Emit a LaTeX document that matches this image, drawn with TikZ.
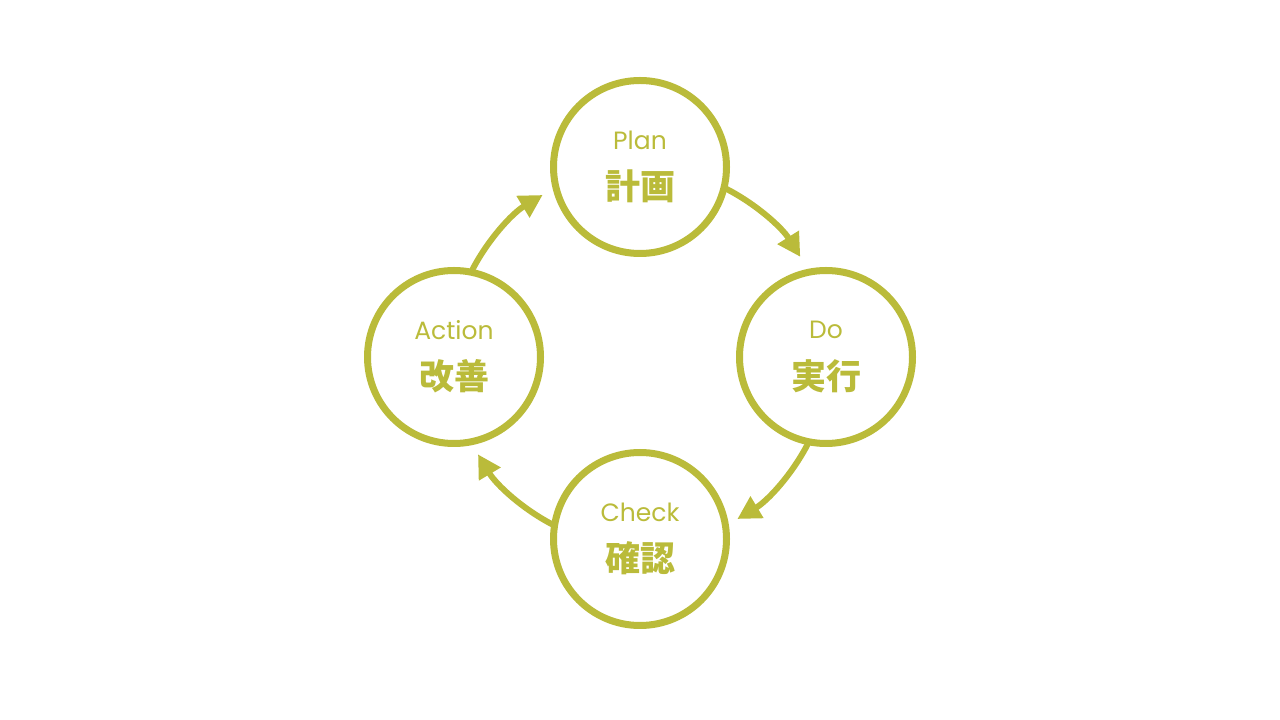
\documentclass[tikz,border=0pt]{standalone}
\usepackage{fontspec}
\setmainfont{Poppins}
\newfontfamily\cjk{Noto Sans CJK JP}
\usetikzlibrary{arrows.meta}
\definecolor{olive}{RGB}{186,187,58}
\begin{document}
\begin{tikzpicture}[x=1pt,y=1pt,
  stage/.style={circle,draw=olive,line width=7pt,minimum size=173pt,inner sep=0pt},
  en/.style={text=olive,font=\fontsize{25}{30}\selectfont},
  jp/.style={text=olive,font=\cjk\bfseries\fontsize{35}{40}\selectfont},
  cyc/.style={draw=olive,line width=6pt,-{Triangle[length=23pt,width=24pt]}}]
\useasboundingbox (0,0) rectangle (1280,720);
\coordinate (ctr) at (640,363);
\node[stage] (plan) at (640,553) {};
\node[stage] (do) at (826,363) {};
\node[stage] (check) at (640,181) {};
\node[stage] (act) at (454,363) {};
\foreach \n/\e/\j in {plan/Plan/計画,do/Do/実行,check/Check/確認,act/Action/改善}{
  \node[en] (\n-en) at ([yshift=27pt]\n.center) {\e};
  \node[jp] (\n-jp) at ([yshift=-19pt]\n.center) {\j};
}
\draw[cyc] ([shift={(63:189)}]ctr) arc[start angle=63,end angle=32,radius=189];
\draw[cyc] ([shift={(-27:189)}]ctr) arc[start angle=-27,end angle=-59,radius=189];
\draw[cyc] ([shift={(-117:189)}]ctr) arc[start angle=-117,end angle=-149,radius=189];
\draw[cyc] ([shift={(153:189)}]ctr) arc[start angle=153,end angle=121,radius=189];
\end{tikzpicture}
\end{document}
